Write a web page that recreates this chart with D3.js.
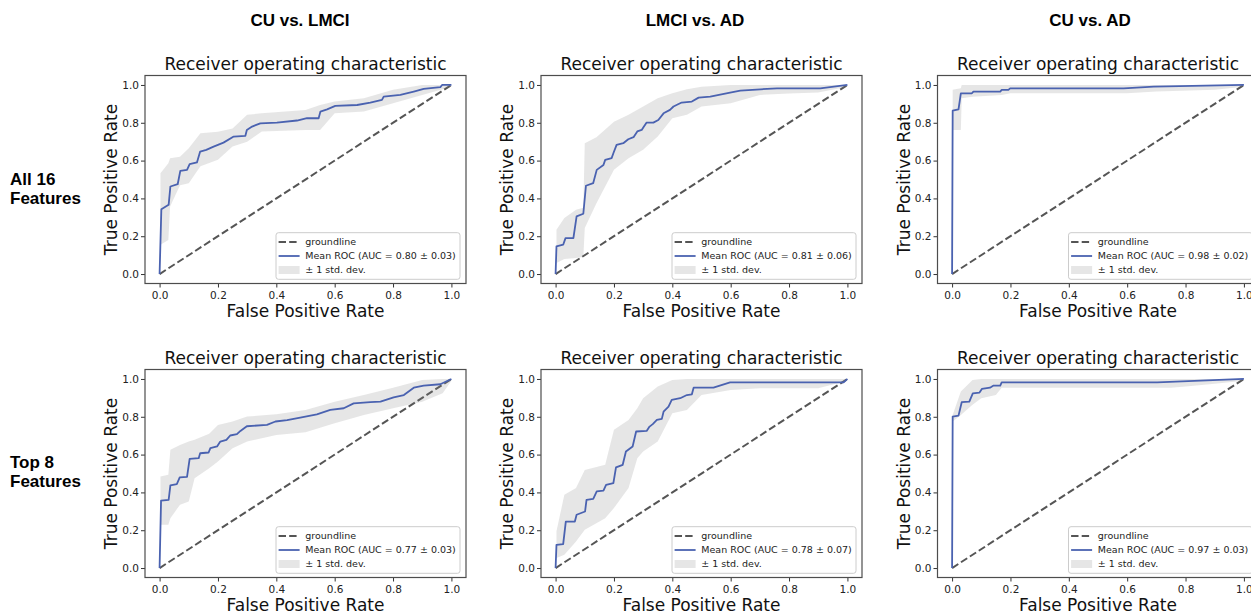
<!DOCTYPE html>
<html><head><meta charset="utf-8">
<script src="https://cdn.jsdelivr.net/npm/d3@7/dist/d3.min.js"></script>
<style>body{margin:0;background:#fff}svg{display:block}</style>
</head><body><svg id="chart" width="1251" height="613"></svg>
<script>
// ---- data ----
const columnTitles = ["CU vs. LMCI", "LMCI vs. AD", "CU vs. AD"];
const rowTitles = [["All 16", "Features"], ["Top 8", "Features"]];
const tickValues = [0, 0.2, 0.4, 0.6, 0.8, 1.0];
const panelTitle = "Receiver operating characteristic";
const xLabel = "False Positive Rate";
const yLabel = "True Positive Rate";
const legendLabels = ["groundline", "Mean ROC (AUC = {auc})", "± 1 std. dev."];
const aucAll16 = ["0.80 ± 0.03", "0.81 ± 0.06", "0.98 ± 0.02"];
const aucTop8 = ["0.77 ± 0.03", "0.78 ± 0.07", "0.97 ± 0.03"];
const groundline = [[0, 0], [1, 1]];

// mean ROC [fpr, tpr]
const meanCuLmciAll = [[0,0],[0.006,0.343],[0.031,0.366],[0.037,0.463],[0.062,0.475],[0.071,0.546],[0.094,0.551],[0.103,0.581],[0.128,0.59],[0.139,0.648],[0.16,0.657],[0.185,0.674],[0.219,0.695],[0.254,0.727],[0.294,0.731],[0.299,0.762],[0.317,0.78],[0.345,0.797],[0.402,0.801],[0.471,0.812],[0.505,0.824],[0.545,0.824],[0.551,0.859],[0.574,0.871],[0.602,0.889],[0.677,0.894],[0.722,0.907],[0.762,0.921],[0.768,0.938],[0.825,0.947],[0.871,0.965],[0.905,0.979],[0.962,0.988],[0.968,1],[1,1]];
const meanLmciAdAll = [[0,0],[0.003,0.146],[0.026,0.155],[0.034,0.19],[0.061,0.19],[0.072,0.305],[0.095,0.319],[0.104,0.467],[0.129,0.481],[0.141,0.551],[0.164,0.577],[0.17,0.604],[0.192,0.613],[0.198,0.639],[0.209,0.683],[0.232,0.692],[0.249,0.713],[0.267,0.724],[0.28,0.754],[0.295,0.762],[0.301,0.776],[0.312,0.801],[0.335,0.801],[0.352,0.815],[0.37,0.85],[0.392,0.868],[0.404,0.886],[0.432,0.907],[0.467,0.912],[0.49,0.933],[0.53,0.938],[0.598,0.96],[0.633,0.97],[0.702,0.977],[0.759,0.982],[0.907,0.982],[1,1]];
const meanCuAdAll = [[0,0],[0.002,0.864],[0.022,0.871],[0.03,0.956],[0.068,0.956],[0.073,0.965],[0.165,0.965],[0.17,0.974],[0.193,0.974],[0.199,0.982],[0.588,0.982],[0.691,0.991],[1,1]];
const meanCuLmciTop = [[0,0],[0.005,0.356],[0.031,0.361],[0.037,0.437],[0.059,0.444],[0.069,0.479],[0.094,0.482],[0.103,0.577],[0.134,0.581],[0.139,0.607],[0.168,0.611],[0.174,0.634],[0.197,0.643],[0.208,0.669],[0.229,0.678],[0.242,0.701],[0.265,0.708],[0.277,0.725],[0.299,0.75],[0.368,0.757],[0.397,0.775],[0.437,0.782],[0.482,0.796],[0.539,0.813],[0.585,0.836],[0.631,0.845],[0.665,0.871],[0.722,0.877],[0.757,0.88],[0.802,0.903],[0.837,0.915],[0.871,0.954],[0.905,0.965],[0.962,0.972],[1,1]];
const meanLmciAdTop = [[0,0],[0.003,0.123],[0.026,0.127],[0.035,0.246],[0.066,0.246],[0.072,0.282],[0.101,0.299],[0.106,0.361],[0.129,0.366],[0.141,0.405],[0.164,0.41],[0.173,0.44],[0.198,0.449],[0.207,0.532],[0.23,0.546],[0.241,0.616],[0.264,0.643],[0.276,0.722],[0.312,0.725],[0.322,0.748],[0.333,0.761],[0.347,0.783],[0.364,0.789],[0.37,0.827],[0.387,0.854],[0.398,0.889],[0.427,0.898],[0.45,0.915],[0.467,0.919],[0.473,0.954],[0.541,0.954],[0.598,0.982],[0.633,0.982],[0.987,0.982],[1,1]];
const meanCuAdTop = [[0,0],[0.002,0.801],[0.022,0.806],[0.033,0.877],[0.059,0.88],[0.071,0.924],[0.094,0.928],[0.102,0.947],[0.13,0.954],[0.142,0.965],[0.165,0.965],[0.17,0.982],[0.703,0.982],[1,1]];

// std band [fpr, lower, upper]
const bandCuLmciAll = [[0.003,0.155,0.533],[0.03,0.18,0.586],[0.036,0.357,0.613],[0.07,0.47,0.62],[0.1,0.48,0.665],[0.14,0.57,0.745],[0.2,0.604,0.753],[0.25,0.674,0.77],[0.3,0.7,0.842],[0.35,0.754,0.85],[0.5,0.762,0.868],[0.55,0.762,0.894],[0.6,0.85,0.912],[0.7,0.859,0.93],[0.8,0.903,0.974],[0.9,0.947,1],[1,0.99,1]];
const bandLmciAdAll = [[0.003,0.058,0.234],[0.03,0.079,0.296],[0.07,0.085,0.34],[0.095,0.09,0.35],[0.1,0.243,0.692],[0.14,0.375,0.724],[0.2,0.551,0.806],[0.25,0.613,0.842],[0.3,0.657,0.886],[0.35,0.727,0.93],[0.4,0.824,0.956],[0.45,0.842,0.977],[0.5,0.886,0.991],[0.6,0.903,1],[0.7,0.947,1],[0.8,0.955,1],[0.9,0.96,1],[1,0.99,1]];
const bandCuAdAll = [[0.002,0.762,0.974],[0.03,0.762,0.982],[0.033,0.93,1],[0.07,0.938,1],[0.17,0.947,1],[0.2,0.956,1],[0.6,0.956,1],[0.7,0.965,1],[0.9,0.974,0.995],[1,0.99,1]];
const bandCuLmciTop = [[0.003,0.229,0.484],[0.03,0.229,0.493],[0.037,0.264,0.625],[0.07,0.335,0.651],[0.1,0.352,0.669],[0.12,0.475,0.678],[0.17,0.528,0.71],[0.2,0.563,0.757],[0.25,0.634,0.775],[0.3,0.669,0.801],[0.4,0.704,0.813],[0.5,0.718,0.836],[0.6,0.766,0.88],[0.7,0.81,0.915],[0.8,0.845,0.954],[0.9,0.88,0.995],[0.97,0.924,1],[1,0.99,1]];
const bandLmciAdTop = [[0.003,0.053,0.194],[0.03,0.07,0.387],[0.07,0.141,0.423],[0.1,0.202,0.519],[0.17,0.264,0.546],[0.2,0.317,0.731],[0.25,0.423,0.783],[0.28,0.581,0.845],[0.3,0.616,0.898],[0.35,0.669,0.96],[0.4,0.819,0.995],[0.45,0.836,1],[0.5,0.915,1],[0.6,0.942,1],[0.7,0.951,1],[0.9,0.951,1],[1,0.99,1]];
const bandCuAdTop = [[0.002,0.775,0.81],[0.03,0.81,0.933],[0.07,0.863,0.995],[0.1,0.898,1],[0.15,0.915,1],[0.17,0.954,1],[0.75,0.954,1],[0.8,0.96,1],[0.9,0.975,1],[1,0.99,1]];

// ---- layout ----
const frameLefts = [145, 541, 937.5];
const frameTops = [75.5, 369.5];
const W = 321, H = 208;
const blue = "#4a62b0", dashCol = "#555555", bandCol = "#808080";
const axisFont = "'DejaVu Sans', sans-serif";
const boldFont = "'Liberation Sans', Arial, sans-serif";

const panels = [
  {r:0, c:0, mean: meanCuLmciAll, band: bandCuLmciAll, auc: aucAll16[0]},
  {r:0, c:1, mean: meanLmciAdAll, band: bandLmciAdAll, auc: aucAll16[1]},
  {r:0, c:2, mean: meanCuAdAll, band: bandCuAdAll, auc: aucAll16[2]},
  {r:1, c:0, mean: meanCuLmciTop, band: bandCuLmciTop, auc: aucTop8[0]},
  {r:1, c:1, mean: meanLmciAdTop, band: bandLmciAdTop, auc: aucTop8[1]},
  {r:1, c:2, mean: meanCuAdTop, band: bandCuAdTop, auc: aucTop8[2]},
];

const svg = d3.select("#chart");

// column titles
const colCenters = [300, 695, 1090];
svg.selectAll("text.coltitle").data(columnTitles).enter().append("text")
  .attr("class", "coltitle")
  .attr("x", (d, i) => colCenters[i]).attr("y", 26)
  .attr("text-anchor", "middle")
  .style("font-family", boldFont).style("font-weight", "bold").style("font-size", "17px")
  .text(d => d);

// row titles
const rowBaselines = [185, 468];
rowTitles.forEach((lines, ri) => {
  lines.forEach((t, li) => {
    svg.append("text").attr("x", 10).attr("y", rowBaselines[ri] + li * 19)
      .style("font-family", boldFont).style("font-weight", "bold").style("font-size", "17px")
      .text(t);
  });
});

panels.forEach(p => {
  const L = frameLefts[p.c], T = frameTops[p.r];
  const x = d3.scaleLinear().domain([-0.05, 1.05]).range([L, L + W]);
  const y = d3.scaleLinear().domain([-0.05, 1.05]).range([T + H, T]);
  const g = svg.append("g");

  // groundline
  g.append("path").datum(groundline)
    .attr("d", d3.line().x(d => x(d[0])).y(d => y(d[1])))
    .attr("fill", "none").attr("stroke", dashCol).attr("stroke-width", 2)
    .attr("stroke-dasharray", "7.4,3.2");

  // band
  g.append("path").datum(p.band)
    .attr("d", d3.area().x(d => x(d[0])).y0(d => y(d[1])).y1(d => y(d[2])))
    .attr("fill", bandCol).attr("fill-opacity", 0.2);

  // mean line
  g.append("path").datum(p.mean)
    .attr("d", d3.line().x(d => x(d[0])).y(d => y(d[1])))
    .attr("fill", "none").attr("stroke", blue).attr("stroke-width", 1.8)
    .attr("stroke-linejoin", "round");

  // axes
  const xa = g.append("g").attr("transform", `translate(0,${T + H})`)
    .call(d3.axisBottom(x).tickValues(tickValues).tickFormat(d3.format(".1f")).tickSize(4).tickPadding(4).tickSizeOuter(0));
  const ya = g.append("g").attr("transform", `translate(${L},0)`)
    .call(d3.axisLeft(y).tickValues(tickValues).tickFormat(d3.format(".1f")).tickSize(4).tickPadding(2).tickSizeOuter(0));
  [xa, ya].forEach(a => {
    a.select(".domain").remove();
    a.selectAll("line").attr("stroke", "#333");
    a.selectAll("text").style("font-family", axisFont).style("font-size", "10.5px").attr("fill", "#222");
  });

  // frame
  g.append("rect").attr("x", L).attr("y", T).attr("width", W).attr("height", H)
    .attr("fill", "none").attr("stroke", "#4d4d4d").attr("stroke-width", 1.2);

  // title
  g.append("text").attr("x", L + W / 2).attr("y", T - 5.5).attr("text-anchor", "middle")
    .style("font-family", axisFont).style("font-size", "17px").attr("fill", "#111")
    .text(panelTitle);
  // axis labels
  g.append("text").attr("x", L + W / 2).attr("y", T + H + 33.5).attr("text-anchor", "middle")
    .style("font-family", axisFont).style("font-size", "17px").attr("fill", "#111")
    .text(xLabel);
  g.append("text").attr("transform", `translate(${L - 28},${T + H / 2}) rotate(-90)`)
    .attr("text-anchor", "middle")
    .style("font-family", axisFont).style("font-size", "17px").attr("fill", "#111")
    .text(yLabel);

  // legend
  const lx = L + W - 6 - 184, ly = T + H - 4.2 - 46.6;
  const lg = g.append("g").attr("transform", `translate(${lx},${ly})`);
  lg.append("rect").attr("width", 184).attr("height", 46.6).attr("rx", 2.5)
    .attr("fill", "#fff").attr("fill-opacity", 0.8).attr("stroke", "#cccccc").attr("stroke-width", 1);
  const rowsY = [9.3, 23.3, 37.3];
  lg.append("line").attr("x1", 2.6).attr("x2", 23.6).attr("y1", rowsY[0]).attr("y2", rowsY[0])
    .attr("stroke", dashCol).attr("stroke-width", 2).attr("stroke-dasharray", "7.4,3.2");
  lg.append("line").attr("x1", 2.6).attr("x2", 23.6).attr("y1", rowsY[1]).attr("y2", rowsY[1])
    .attr("stroke", blue).attr("stroke-width", 1.8);
  lg.append("rect").attr("x", 2.6).attr("y", rowsY[2] - 4).attr("width", 21).attr("height", 8)
    .attr("fill", bandCol).attr("fill-opacity", 0.2);
  legendLabels.forEach((t, i) => {
    lg.append("text").attr("x", 29.3).attr("y", rowsY[i]).attr("dy", "0.35em")
      .style("font-family", axisFont).style("font-size", "9.5px").attr("fill", "#222")
      .text(t.replace("{auc}", p.auc));
  });
});
</script></body></html>
